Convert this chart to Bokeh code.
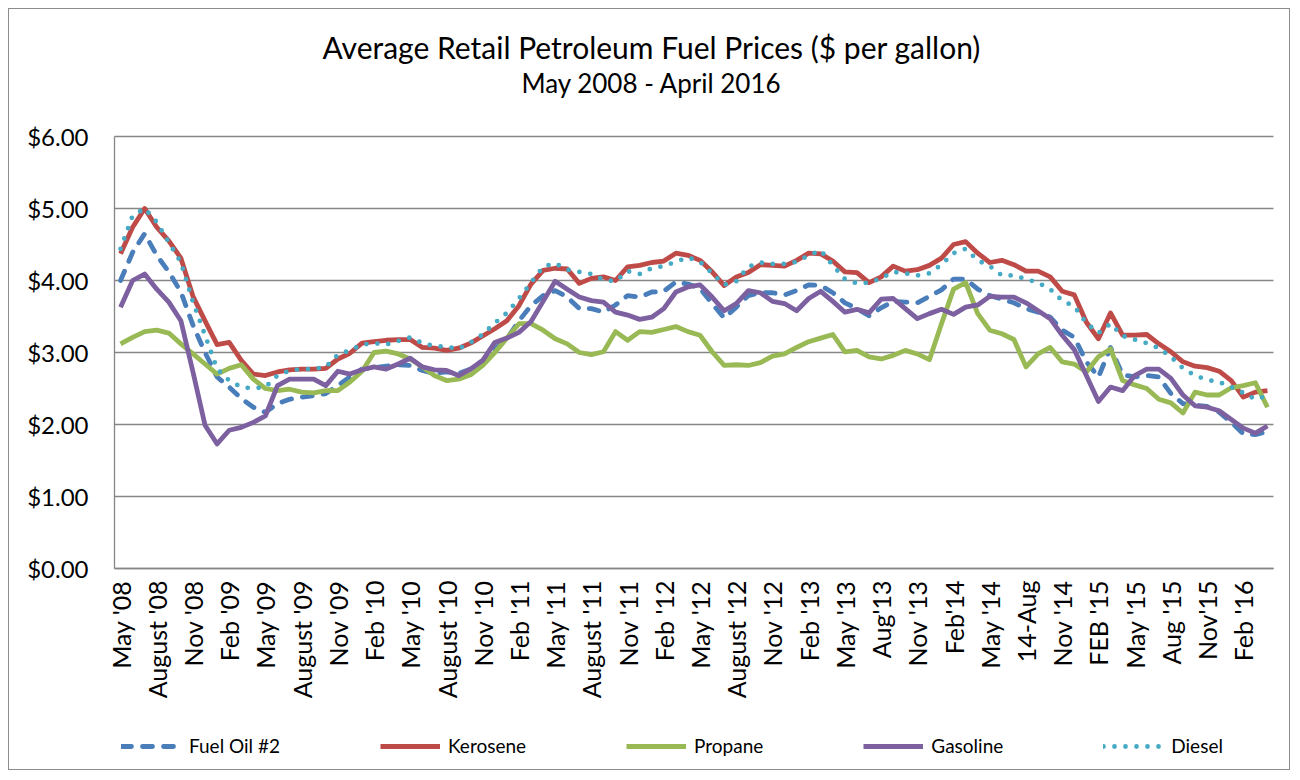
import numpy as np
from bokeh.plotting import figure
from bokeh.models import (FixedTicker, NumeralTickFormatter, Label, Legend,
                          LegendItem, Range1d, LinearAxis, Grid)
from bokeh.embed import file_html
from bokeh.resources import INLINE

TITLE = "Average Retail Petroleum Fuel Prices ($ per gallon)"
SUBTITLE = "May 2008 - April 2016"

TICK_LABELS = ["May '08", "August '08", "Nov '08", "Feb '09", "May '09", "August '09",
               "Nov '09", "Feb '10", "May '10", "August '10", "Nov '10", "Feb '11",
               "May '11", "August '11", "Nov '11", "Feb '12", "May '12", "August '12",
               "Nov '12", "Feb '13", "May '13", "Aug'13", "Nov '13", "Feb'14",
               "May '14", "14-Aug", "Nov '14", "FEB '15", "May '15", "Aug '15",
               "Nov'15", "Feb '16"]

Y_TICKS = [0, 1, 2, 3, 4, 5, 6]

FUEL_OIL = [4.00, 4.39, 4.65, 4.35, 4.12, 3.84, 3.38, 3.00, 2.66, 2.52, 2.36, 2.24, 2.17, 2.29, 2.35, 2.38, 2.40, 2.43, 2.54, 2.66,
            2.77, 2.79, 2.81, 2.83, 2.82, 2.75, 2.71, 2.73, 2.71, 2.77, 2.89, 3.05, 3.19, 3.44, 3.65, 3.79, 3.86, 3.77, 3.61,
            3.61, 3.56, 3.66, 3.79, 3.77, 3.84, 3.85, 3.98, 3.95, 3.89, 3.68, 3.48, 3.63, 3.79, 3.83, 3.83, 3.80, 3.86, 3.94,
            3.93, 3.83, 3.69, 3.61, 3.51, 3.62, 3.71, 3.70, 3.69, 3.78, 3.87, 4.02, 4.02, 3.88, 3.79, 3.74, 3.69, 3.61, 3.56, 3.49,
            3.31, 3.21, 2.87, 2.66, 3.07, 2.69, 2.66, 2.68, 2.66, 2.43, 2.29, 2.27, 2.25, 2.17, 2.03, 1.87, 1.86, 1.90]

KEROSENE = [4.37, 4.74, 5.00, 4.74, 4.55, 4.31, 3.78, 3.44, 3.11, 3.14, 2.89, 2.70, 2.68, 2.73, 2.76, 2.77, 2.77, 2.78, 2.91, 2.99,
            3.13, 3.15, 3.17, 3.18, 3.18, 3.07, 3.06, 3.03, 3.06, 3.13, 3.23, 3.33, 3.44, 3.65, 3.95, 4.14, 4.17, 4.16, 3.96,
            4.03, 4.05, 4.00, 4.19, 4.21, 4.25, 4.27, 4.38, 4.35, 4.28, 4.12, 3.93, 4.05, 4.11, 4.22, 4.21, 4.20, 4.28, 4.38,
            4.37, 4.27, 4.12, 4.11, 3.97, 4.05, 4.20, 4.13, 4.15, 4.21, 4.31, 4.50, 4.54, 4.38, 4.25, 4.28, 4.22, 4.13, 4.13, 4.05,
            3.85, 3.80, 3.42, 3.19, 3.55, 3.24, 3.24, 3.25, 3.12, 3.01, 2.87, 2.81, 2.79, 2.74, 2.61, 2.38, 2.45, 2.47]

PROPANE = [3.12, 3.21, 3.29, 3.31, 3.27, 3.12, 2.98, 2.84, 2.70, 2.78, 2.83, 2.63, 2.50, 2.47, 2.49, 2.45, 2.44, 2.47, 2.47, 2.59,
           2.74, 3.00, 3.02, 2.98, 2.91, 2.80, 2.68, 2.61, 2.63, 2.69, 2.82, 3.00, 3.20, 3.40, 3.40, 3.31, 3.19, 3.12, 3.00,
           2.97, 3.01, 3.29, 3.17, 3.29, 3.28, 3.32, 3.36, 3.29, 3.24, 3.01, 2.82, 2.83, 2.82, 2.86, 2.95, 2.98, 3.07, 3.15,
           3.20, 3.25, 3.01, 3.03, 2.94, 2.91, 2.96, 3.03, 2.98, 2.90, 3.40, 3.88, 3.97, 3.54, 3.31, 3.26, 3.18, 2.80, 2.98, 3.07,
           2.87, 2.84, 2.73, 2.94, 3.05, 2.61, 2.55, 2.50, 2.35, 2.30, 2.16, 2.45, 2.41, 2.41, 2.51, 2.54, 2.58, 2.24]

GASOLINE = [3.63, 4.00, 4.09, 3.88, 3.70, 3.44, 2.73, 1.99, 1.73, 1.92, 1.96, 2.03, 2.12, 2.54, 2.63, 2.63, 2.63, 2.54, 2.74, 2.70,
            2.76, 2.80, 2.77, 2.84, 2.92, 2.80, 2.76, 2.75, 2.68, 2.77, 2.89, 3.14, 3.20, 3.28, 3.43, 3.71, 3.99, 3.88, 3.77,
            3.72, 3.70, 3.56, 3.52, 3.46, 3.49, 3.61, 3.84, 3.91, 3.94, 3.77, 3.58, 3.68, 3.86, 3.83, 3.71, 3.68, 3.58, 3.75,
            3.85, 3.71, 3.56, 3.60, 3.55, 3.74, 3.75, 3.61, 3.47, 3.54, 3.60, 3.53, 3.63, 3.66, 3.78, 3.77, 3.77, 3.69, 3.58, 3.47,
            3.24, 3.04, 2.68, 2.32, 2.52, 2.47, 2.68, 2.77, 2.77, 2.64, 2.41, 2.26, 2.24, 2.19, 2.07, 1.95, 1.88, 1.98]

DIESEL = [4.44, 4.90, 5.00, 4.81, 4.53, 4.25, 3.70, 3.24, 2.77, 2.61, 2.52, 2.50, 2.52, 2.68, 2.75, 2.77, 2.77, 2.80, 2.97, 3.03,
          3.11, 3.13, 3.11, 3.16, 3.21, 3.13, 3.09, 3.08, 3.05, 3.14, 3.25, 3.41, 3.55, 3.75, 3.97, 4.19, 4.24, 4.15, 4.12,
          4.09, 4.01, 3.99, 4.13, 4.09, 4.17, 4.20, 4.26, 4.32, 4.26, 4.10, 3.94, 3.99, 4.19, 4.25, 4.23, 4.23, 4.26, 4.35,
          4.42, 4.21, 4.02, 3.96, 3.97, 4.03, 4.12, 4.10, 4.07, 4.10, 4.22, 4.38, 4.44, 4.28, 4.20, 4.07, 4.07, 4.02, 3.97, 3.88,
          3.72, 3.64, 3.41, 3.27, 3.40, 3.23, 3.18, 3.13, 3.06, 2.94, 2.78, 2.68, 2.62, 2.59, 2.52, 2.44, 2.35, 2.40]

SERIES = [
    ("Fuel Oil #2", FUEL_OIL, "#4A7EBB", "10 11"),
    ("Kerosene", KEROSENE, "#BE4B48", "solid"),
    ("Propane", PROPANE, "#98B954", "solid"),
    ("Gasoline", GASOLINE, "#7D60A0", "solid"),
    ("Diesel", DIESEL, "#46AAC5", "0 11"),
]

FONT = "Lato"
GRAY = "#868686"

months = np.arange(len(FUEL_OIL))
n = len(months)

# ---- layout in canvas pixels (canvas = whole chart box inside its 1px border)
W, H = 1282, 762
PLOT_L, PLOT_R, PLOT_T, PLOT_B = 105, 1264, 127, 559   # plot area inside the canvas
px_per_x = (PLOT_R - PLOT_L) / n
px_per_y = (PLOT_B - PLOT_T) / (Y_TICKS[-1] - Y_TICKS[0])
x_lo = -0.5 - PLOT_L / px_per_x
x_hi = n - 0.5 + (W - PLOT_R) / px_per_x
y_lo = Y_TICKS[0] - (H - PLOT_B) / px_per_y
y_hi = Y_TICKS[-1] + PLOT_T / px_per_y

p = figure(width=W, height=H, output_backend="svg", toolbar_location=None,
           title=None, x_axis_type=None, y_axis_type=None,
           x_range=Range1d(x_lo, x_hi), y_range=Range1d(y_lo, y_hi),
           min_border=0)
p.margin = (8, 8, 8, 8)
p.styles = {"border": "1px solid #8c8c8c"}
p.outline_line_color = None
p.background_fill_color = "white"
p.border_fill_color = "white"

# grid lines limited to the plot area
yticker = FixedTicker(ticks=Y_TICKS)
ygrid = Grid(dimension=1, ticker=yticker, grid_line_color=GRAY, grid_line_width=1.3)
if "cross_bounds" in Grid.properties():
    ygrid.cross_bounds = (-0.5, n - 0.5)
    p.add_layout(ygrid)
else:
    p.segment(x0=[-0.5] * len(Y_TICKS), x1=[n - 0.5] * len(Y_TICKS), y0=Y_TICKS, y1=Y_TICKS,
              line_color=GRAY, line_width=1.3)

items = []
for name, vals, color, dash in SERIES:
    r = p.line(months, vals, line_color=color, line_width=4.8, line_dash=dash,
               line_cap="round" if dash != "solid" else "butt", line_join="round")
    items.append(LegendItem(label=name, renderers=[r]))

# axes placed at fixed positions inside the canvas
xaxis = LinearAxis(fixed_location=Y_TICKS[0], bounds=(-0.5, n - 0.5),
                   ticker=FixedTicker(ticks=list(range(0, n, 3))))
xaxis.major_label_overrides = {i * 3: lab for i, lab in enumerate(TICK_LABELS)}
xaxis.major_label_orientation = np.pi / 2
xaxis.major_label_text_font_size = "25px"
xaxis.major_label_standoff = 12

yaxis = LinearAxis(fixed_location=-0.5, bounds=(Y_TICKS[0], Y_TICKS[-1]), ticker=yticker,
                   formatter=NumeralTickFormatter(format="$0.00"))
yaxis.major_label_text_font_size = "24px"
yaxis.major_label_standoff = 26

for ax in (xaxis, yaxis):
    ax.axis_line_color = GRAY
    ax.axis_line_width = 1.3
    ax.major_tick_line_color = None
    ax.minor_tick_line_color = None
    ax.major_tick_out = 0
    ax.major_tick_in = 0
    ax.major_label_text_font = FONT
    ax.major_label_text_color = "black"
p.add_layout(xaxis, "below")
p.add_layout(yaxis, "left")

# titles
p.add_layout(Label(x=44.0, y=7.25, text=TITLE, text_align="center", text_baseline="middle",
                   text_font=FONT, text_font_size="30px", text_color="black"))
p.add_layout(Label(x=44.0, y=6.75, text=SUBTITLE, text_align="center", text_baseline="middle",
                   text_font=FONT, text_font_size="26px", text_color="black"))

legend = Legend(items=items, orientation="horizontal", location=(112, 14),
                glyph_width=60, glyph_height=20, label_standoff=8, spacing=100,
                padding=10, margin=0, border_line_color=None, background_fill_alpha=0,
                label_text_font=FONT, label_text_font_size="19px",
                label_text_color="black")
p.add_layout(legend, "center")

open("out.html", "w").write(file_html(p, INLINE))
